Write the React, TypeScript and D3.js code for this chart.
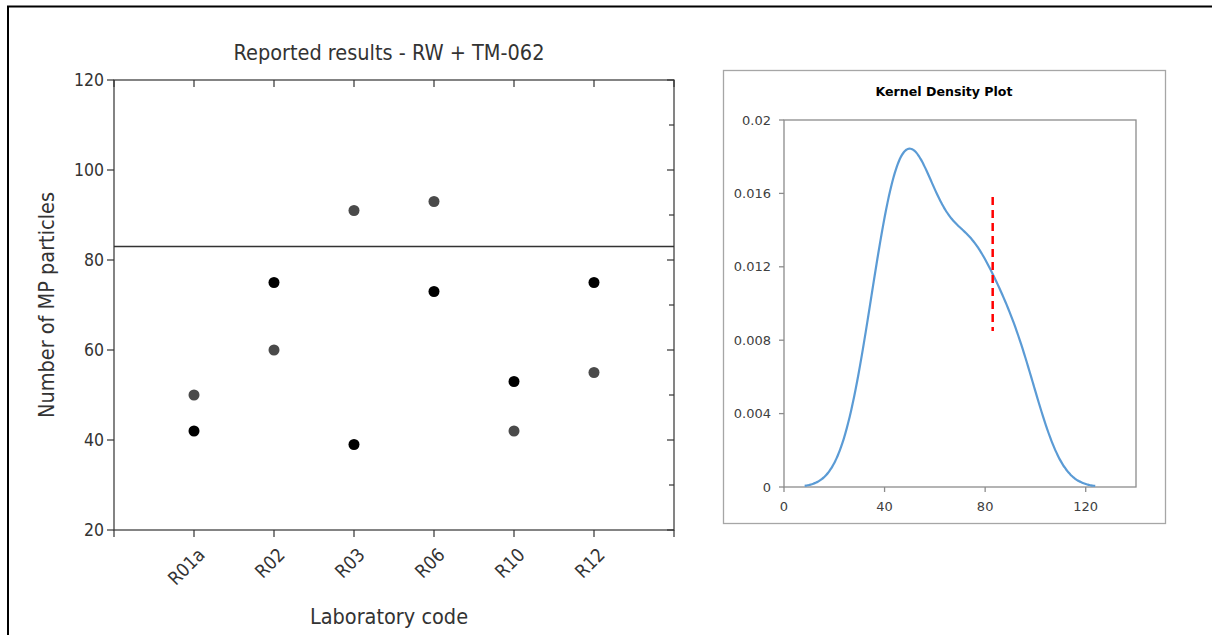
import React from "react";
import * as d3 from "d3";

const labCodes = ["R01a", "R02", "R03", "R06", "R10", "R12"];
const resultsBlack = [42, 75, 39, 73, 53, 75];
const resultsGray = [50, 60, 91, 93, 42, 55];
const assignedValue = 83;
const yTicksLeft = [20, 40, 60, 80, 100, 120];
const yMinorLeft = [30, 50, 70, 90, 110];
const kdeXTicks = [0, 40, 80, 120];
const kdeYTicks = [0, 0.004, 0.008, 0.012, 0.016, 0.02];
const bandwidth = 10.26;
const dashRange = [0.0085, 0.0158];

export default function App() {
  // left chart
  const L = { left: 114, right: 674, top: 80, bottom: 530 };
  const x = d3.scaleLinear().domain([0, 7]).range([L.left, L.right]);
  const y = d3.scaleLinear().domain([20, 120]).range([L.bottom, L.top]);
  const txt = "#333";
  const leftFont = "'DejaVu Sans Condensed', 'DejaVu Sans', sans-serif";

  // right chart
  const R = { left: 784, right: 1136, top: 120, bottom: 487 };
  const kx = d3.scaleLinear().domain([0, 140]).range([R.left, R.right]);
  const ky = d3.scaleLinear().domain([0, 0.02]).range([R.bottom, R.top]);
  const all = [...resultsBlack, ...resultsGray];
  const n = all.length;
  const lo = (d3.min(all) as number) - 3 * bandwidth;
  const hi = (d3.max(all) as number) + 3 * bandwidth;
  const gauss = (u: number) => Math.exp(-0.5 * u * u) / Math.sqrt(2 * Math.PI);
  const kde: [number, number][] = d3.range(0, 201).map((i) => {
    const xv = lo + ((hi - lo) * i) / 200;
    const dv = d3.sum(all, (v) => gauss((xv - v) / bandwidth)) / (n * bandwidth);
    return [xv, dv];
  });
  const kdePath = d3
    .line<[number, number]>()
    .x((d) => kx(d[0]))
    .y((d) => ky(d[1]))
    .curve(d3.curveMonotoneX)(kde) as string;
  const rightFont = "Verdana, 'DejaVu Sans', sans-serif";
  const axisGray = "#8c8c8c";

  return (
    <svg
      width={1212}
      height={635}
      style={{ position: "absolute", left: 0, top: 0, background: "#fff" }}
    >
      <rect x={0} y={0} width={1212} height={635} fill="#fff" />
      {/* outer frame */}
      <path d="M8,640 L8,6.5 L1220,6.5" fill="none" stroke="#000" strokeWidth={2} />

      {/* ---------- left chart ---------- */}
      <text x={389} y={60} textAnchor="middle" fontFamily={leftFont} fontSize={21.5} fill={txt}>
        Reported results - RW + TM-062
      </text>
      {/* frame */}
      <rect x={L.left} y={L.top} width={L.right - L.left} height={L.bottom - L.top} fill="none" stroke={txt} strokeWidth={1.2} />
      {/* left ticks + labels */}
      {yTicksLeft.map((t) => (
        <g key={"yl" + t}>
          <line x1={L.left - 7} x2={L.left} y1={y(t)} y2={y(t)} stroke={txt} strokeWidth={1.2} />
          <text x={L.left - 10} y={y(t) + 6} textAnchor="end" fontFamily={leftFont} fontSize={17.5} fill={txt}>
            {t}
          </text>
          <line x1={L.right - 7} x2={L.right} y1={y(t)} y2={y(t)} stroke={txt} strokeWidth={1.2} />
        </g>
      ))}
      {yMinorLeft.map((t) => (
        <line key={"ym" + t} x1={L.right - 5} x2={L.right} y1={y(t)} y2={y(t)} stroke={txt} strokeWidth={1.2} />
      ))}
      {/* x ticks */}
      {d3.range(0, 8).map((i) => (
        <g key={"xt" + i}>
          <line x1={x(i)} x2={x(i)} y1={L.bottom} y2={L.bottom + 7} stroke={txt} strokeWidth={1.2} />
          <line x1={x(i)} x2={x(i)} y1={L.top} y2={L.top + 7} stroke={txt} strokeWidth={1.2} />
        </g>
      ))}
      {labCodes.map((c, i) => (
        <text
          key={c}
          transform={`translate(${x(i + 1) + 12},${L.bottom + 26}) rotate(-45)`}
          textAnchor="end"
          fontFamily={leftFont}
          fontSize={18.5}
          fill={txt}
        >
          {c}
        </text>
      ))}
      {/* assigned value line */}
      <line x1={L.left} x2={L.right} y1={y(assignedValue)} y2={y(assignedValue)} stroke={txt} strokeWidth={1.3} />
      {/* points */}
      {resultsGray.map((v, i) => (
        <circle key={"g" + i} cx={x(i + 1)} cy={y(v)} r={5.5} fill="#4a4a4a" />
      ))}
      {resultsBlack.map((v, i) => (
        <circle key={"b" + i} cx={x(i + 1)} cy={y(v)} r={5.5} fill="#000" />
      ))}
      {/* axis titles */}
      <text
        transform={`translate(54,${(L.top + L.bottom) / 2}) rotate(-90)`}
        textAnchor="middle"
        fontFamily={leftFont}
        fontSize={21.5}
        fill={txt}
      >
        Number of MP particles
      </text>
      <text x={389} y={624} textAnchor="middle" fontFamily={leftFont} fontSize={21.5} fill={txt}>
        Laboratory code
      </text>

      {/* ---------- right chart ---------- */}
      <rect x={723.5} y={70.5} width={442} height={453} fill="#fff" stroke="#a6a6a6" strokeWidth={1.3} />
      <text x={944} y={96} textAnchor="middle" fontFamily={rightFont} fontSize={12.6} fontWeight="bold" fill="#000">
        Kernel Density Plot
      </text>
      <rect x={R.left} y={R.top} width={R.right - R.left} height={R.bottom - R.top} fill="none" stroke={axisGray} strokeWidth={1.3} />
      {kdeYTicks.map((t) => (
        <g key={"ky" + t}>
          <line x1={R.left - 5} x2={R.left} y1={ky(t)} y2={ky(t)} stroke={axisGray} strokeWidth={1.3} />
          <text x={R.left - 13} y={ky(t) + 4.5} textAnchor="end" fontFamily={rightFont} fontSize={13} fill="#404040">
            {t === 0 ? "0" : String(t)}
          </text>
        </g>
      ))}
      {kdeXTicks.map((t) => (
        <g key={"kx" + t}>
          <line x1={kx(t)} x2={kx(t)} y1={R.bottom} y2={R.bottom + 5} stroke={axisGray} strokeWidth={1.3} />
          <text x={kx(t)} y={R.bottom + 24} textAnchor="middle" fontFamily={rightFont} fontSize={13} fill="#404040">
            {t}
          </text>
        </g>
      ))}
      <path d={kdePath} fill="none" stroke="#5b9bd5" strokeWidth={2.2} />
      <line
        x1={kx(assignedValue)}
        x2={kx(assignedValue)}
        y1={ky(dashRange[1])}
        y2={ky(dashRange[0])}
        stroke="#ff0000"
        strokeWidth={2.5}
        strokeDasharray="8,5"
      />
    </svg>
  );
}
